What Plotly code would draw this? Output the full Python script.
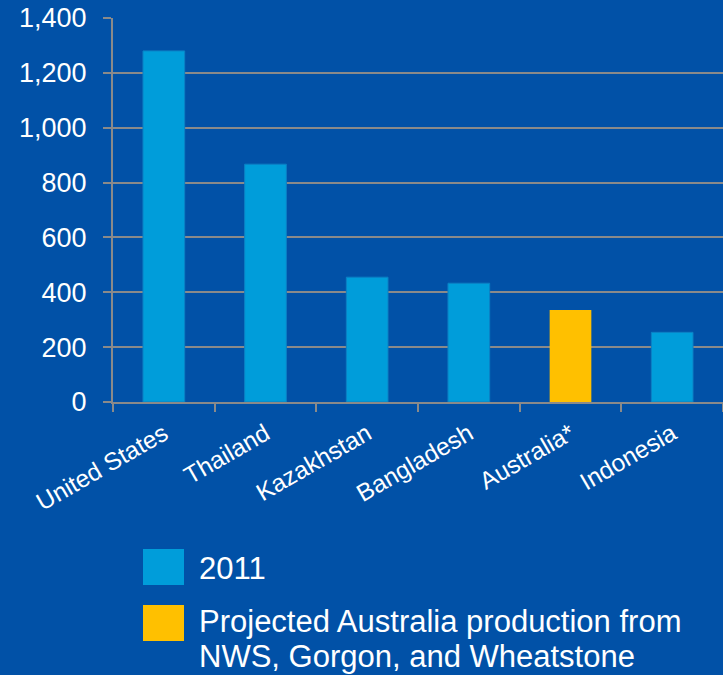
import plotly.graph_objects as go

# Production by country (2011) plus the projected Australian figure
countries = ["United States", "Thailand", "Kazakhstan", "Bangladesh", "Australia*", "Indonesia"]
production_2011 = [1280, 867, 455, 433, None, 254]
projected_australia = [None, None, None, None, 335, None]

y_ticks = [0, 200, 400, 600, 800, 1000, 1200, 1400]

legend_labels = ["2011", "Projected Australia production from<br>NWS, Gorgon, and Wheatstone"]

BG = "#0151A7"
BAR_BLUE = "#009DDA"
BAR_EDGE = "#0C80C4"
GOLD = "#FFC000"
GRID = "#8A8A8A"
FONT = "Liberation Sans, Arial, sans-serif"

W, H = 723, 675
L, R, T, B = 113, 0, 18, 273
plot_w = W - L - R
plot_h = H - T - B


def px(x):
    return (x - L) / plot_w


def py(y):
    return (H - B - y) / plot_h


fig = go.Figure()
fig.add_trace(go.Bar(
    x=countries, y=production_2011, name=legend_labels[0],
    marker=dict(color=BAR_BLUE, line=dict(color=BAR_EDGE, width=1)),
    showlegend=False,
))
fig.add_trace(go.Bar(
    x=countries, y=projected_australia, name="Projected Australia",
    marker=dict(color=GOLD, line=dict(color=GOLD, width=0)),
    showlegend=False,
))

# Hand-drawn legend: coloured squares with labels below the chart;
# each label line is placed separately for a tighter line spacing
shapes = []
annotations = []
LINE_STEP = 35
for col, label, y0, y1, ty in [
    (BAR_BLUE, legend_labels[0], 549, 585, 568),
    (GOLD, legend_labels[1], 605, 641, 621),
]:
    shapes.append(dict(
        type="rect", xref="paper", yref="paper",
        x0=px(143), x1=px(184), y0=py(y0), y1=py(y1),
        fillcolor=col, line=dict(width=0),
    ))
    for k, line in enumerate(label.split("<br>")):
        annotations.append(dict(
            xref="paper", yref="paper", x=px(197), y=py(ty + k * LINE_STEP),
            xanchor="left", yanchor="middle", align="left",
            text=line, showarrow=False,
            font=dict(family=FONT, size=31, color="white"),
        ))

fig.update_layout(
    width=W, height=H,
    margin=dict(l=L, r=R, t=T, b=B, pad=0),
    paper_bgcolor=BG, plot_bgcolor=BG,
    barmode="overlay", bargap=0.59,
    font=dict(family=FONT, color="white"),
    shapes=shapes, annotations=annotations,
    xaxis=dict(
        type="category", showgrid=False, zeroline=False,
        showline=True, linecolor=GRID, linewidth=2,
        ticks="outside", tickson="boundaries", ticklen=8,
        tickwidth=2, tickcolor=GRID, tickangle=-30,
        ticklabelstandoff=6,
        tickfont=dict(family=FONT, size=24.5, color="white"),
    ),
    yaxis=dict(
        range=[0, 1400], tickvals=y_ticks, tickformat=",",
        showgrid=True, gridcolor=GRID, gridwidth=2, zeroline=False,
        showline=True, linecolor=GRID, linewidth=2,
        ticks="outside", ticklen=8, tickwidth=2, tickcolor=GRID,
        ticklabelstandoff=11,
        tickfont=dict(family=FONT, size=27, color="white"),
    ),
)

fig.write_html("out.html")
